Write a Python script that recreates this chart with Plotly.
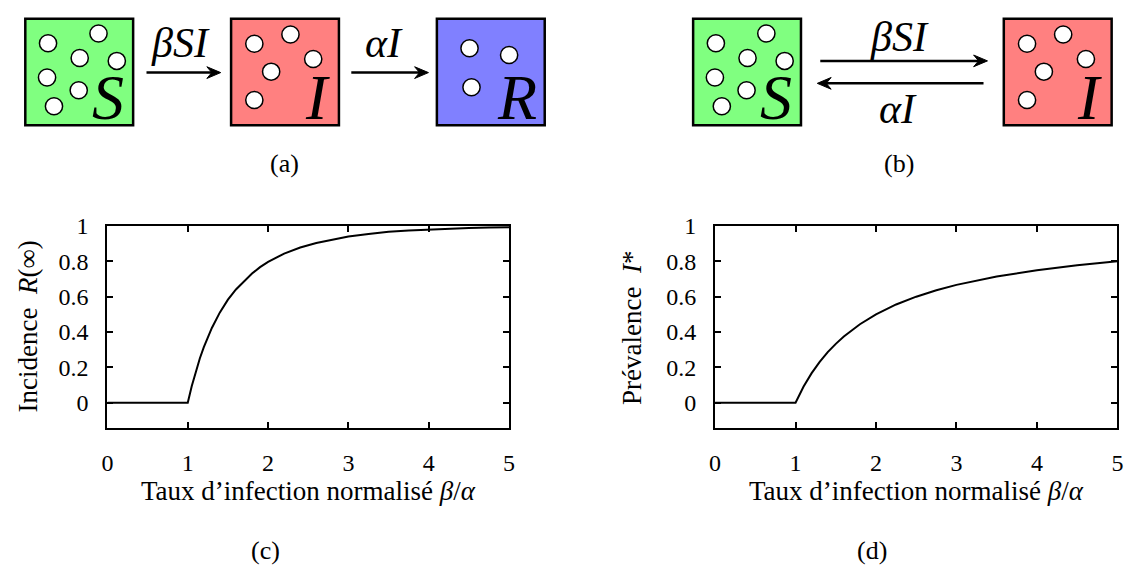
import plotly.graph_objects as go

W, H = 1131, 569

# ---------------- data ----------------
ratio_sir = [0, 0.5, 1.0, 1.05, 1.1, 1.15, 1.2, 1.3, 1.4, 1.5, 1.6, 1.7, 1.8, 1.9, 2.0,
             2.2, 2.4, 2.6, 2.8, 3.0, 3.25, 3.5, 3.75, 4.0, 4.25, 4.5, 4.75, 5.0]
incidence = [0, 0, 0, 0.094, 0.176, 0.250, 0.314, 0.423, 0.511, 0.583, 0.641, 0.689, 0.731,
             0.767, 0.797, 0.844, 0.878, 0.904, 0.924, 0.941, 0.955, 0.968, 0.974, 0.980,
             0.985, 0.989, 0.991, 0.993]

ratio_sis = [0, 0.5, 1.0, 1.1, 1.2, 1.3, 1.4, 1.5, 1.6, 1.8, 2.0, 2.25, 2.5, 2.75,
             3.0, 3.5, 4.0, 4.5, 5.0]
prevalence = [0, 0, 0, 0.091, 0.167, 0.231, 0.286, 0.333, 0.375, 0.444, 0.5, 0.556, 0.6,
              0.636, 0.667, 0.714, 0.75, 0.778, 0.8]

x_ticks = [0, 1, 2, 3, 4, 5]
x_tick_labels = ["0", "1", "2", "3", "4", "5"]
y_ticks = [0, 0.2, 0.4, 0.6, 0.8, 1]
y_tick_labels = ["0", "0.2", "0.4", "0.6", "0.8", "1"]

FONT = "Liberation Serif"

def px(x):
    return x / W

def py(y):
    return 1 - y / H

fig = go.Figure()
fig.add_trace(go.Scatter(x=ratio_sir, y=incidence, mode="lines",
                         line=dict(color="black", width=2), xaxis="x", yaxis="y",
                         showlegend=False, hoverinfo="skip"))
fig.add_trace(go.Scatter(x=ratio_sis, y=prevalence, mode="lines",
                         line=dict(color="black", width=2), xaxis="x2", yaxis="y2",
                         showlegend=False, hoverinfo="skip"))

ydom = [py(425), py(218)]
axis_common = dict(showline=True, linewidth=2, linecolor="black", mirror="ticks",
                   ticks="inside", ticklen=6, tickwidth=1.5, tickcolor="black",
                   showgrid=False, zeroline=False,
                   tickfont=dict(family=FONT, size=24, color="black"), fixedrange=True)

fig.update_layout(
    width=W, height=H, margin=dict(l=0, r=0, t=0, b=0),
    paper_bgcolor="white", plot_bgcolor="white",
    font=dict(family=FONT, color="black"),
    xaxis=dict(domain=[px(102.5), px(508.5)], range=[0, 5], anchor="y",
               tickvals=x_ticks, ticktext=x_tick_labels, ticklabelstandoff=12, **axis_common),
    yaxis=dict(domain=ydom, range=[-0.145, 1.0], anchor="x",
               tickvals=y_ticks, ticktext=y_tick_labels, ticklabelstandoff=12, **axis_common),
    xaxis2=dict(domain=[px(716.7), px(1123.3)], range=[0, 5], anchor="y2",
                tickvals=x_ticks, ticktext=x_tick_labels, ticklabelstandoff=12, **axis_common),
    yaxis2=dict(domain=ydom, range=[-0.145, 1.0], anchor="x2",
                tickvals=y_ticks, ticktext=y_tick_labels, ticklabelstandoff=12, **axis_common),
)

annotations = []
shapes = []

def text(x, y, t, size, angle=0):
    annotations.append(dict(x=px(x), y=py(y), xref="paper", yref="paper", text=t,
                            showarrow=False, xanchor="center", yanchor="middle",
                            textangle=angle,
                            font=dict(family=FONT, size=size, color="black")))

def arrow(x0, x1, y):
    d = 1 if x1 > x0 else -1
    shapes.append(dict(type="line", xref="paper", yref="paper",
                       x0=px(x0), x1=px(x1 - d * 8), y0=py(y), y1=py(y),
                       line=dict(color="black", width=2.5), layer="above"))
    pts = [(x1, y), (x1 - d * 14, y - 6), (x1 - d * 9, y), (x1 - d * 14, y + 6)]
    path = "M " + " L ".join("%.5f,%.5f" % (px(a), py(b)) for a, b in pts) + " Z"
    shapes.append(dict(type="path", xref="paper", yref="paper", path=path,
                       fillcolor="black", line=dict(color="black", width=1), layer="above"))

# ---------------- compartment diagrams ----------------
BOX_W, BOX_TOP, BOX_BOT = 109, 6, 115
S_circ = [(23, 31), (74, 21), (55, 46), (92.5, 49), (22, 66), (54, 79), (29, 95.5)]
I_circ = [(23.5, 31.5), (60, 22), (83, 47), (40.5, 60), (23.5, 89)]
R_circ = [(33, 36), (73, 43), (35, 76)]
R_CIRC = 8.7

boxes = [
    (19.5, "rgb(128,255,128)", S_circ, "S"),
    (227.5, "rgb(255,128,128)", I_circ, "I"),
    (435.5, "rgb(128,128,255)", R_circ, "R"),
    (694.5, "rgb(128,255,128)", S_circ, "S"),
    (1008.5, "rgb(255,128,128)", I_circ, "I"),
]
letter_dx = {"S": 84, "I": 87, "R": 81}
for left, col, circs, letter in boxes:
    shapes.append(dict(type="rect", xref="paper", yref="paper",
                       x0=px(left), x1=px(left + BOX_W), y0=py(BOX_BOT), y1=py(BOX_TOP),
                       fillcolor=col, line=dict(color="black", width=2.5), layer="above"))
    for cx, cy in circs:
        shapes.append(dict(type="circle", xref="paper", yref="paper",
                           x0=px(left + cx - R_CIRC), x1=px(left + cx + R_CIRC),
                           y0=py(cy + R_CIRC), y1=py(cy - R_CIRC),
                           fillcolor="white", line=dict(color="black", width=1.5),
                           layer="above"))
    text(left + letter_dx[letter], 86, "<i>%s</i>" % letter, 64)

arrow(142, 217, 61)
arrow(349, 427, 61)
text(176, 31, "<i>βSI</i>", 42)
text(382, 31, "<i>αI</i>", 42)

arrow(823, 992, 49)
arrow(988, 820, 72)
text(903, 25, "<i>βSI</i>", 42)
text(902, 98, "<i>αI</i>", 42)

text(281, 154, "(a)", 26)
text(903, 154, "(b)", 26)

# ---------------- axis titles & panel labels ----------------
text(306, 489, "Taux d’infection normalisé <i>β</i>/<i>α</i>", 27)
text(920, 489, "Taux d’infection normalisé <i>β</i>/<i>α</i>", 27)
text(22, 321, "Incidence\u2002<i>R</i>(∞)", 27, angle=-90)
text(632, 322, "Prévalence\u2002<i>I</i>*", 27, angle=-90)
text(262, 550, "(c)", 26)
text(875, 550, "(d)", 26)

fig.update_layout(annotations=annotations, shapes=shapes)
fig.write_html("out.html", config={"displayModeBar": False},
               post_script="document.body.style.margin='0px';document.body.style.overflow='hidden';")
